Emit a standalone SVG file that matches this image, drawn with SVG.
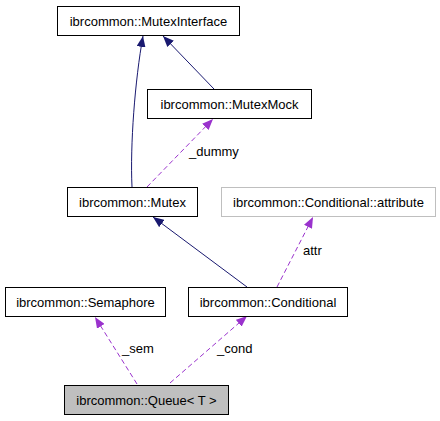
<svg xmlns="http://www.w3.org/2000/svg" width="440" height="421" viewBox="0 0 440 421">
<style>
text{font-family:"Liberation Sans",Arial,sans-serif;font-size:13px;fill:#000}
.n text{text-anchor:middle}
.box{fill:#fff;stroke:#000;stroke-width:1}
.grey{fill:#fff;stroke:#bfbfbf;stroke-width:1}
.cur{fill:#bfbfbf;stroke:#000;stroke-width:1}
.inh{fill:none;stroke:#191970;stroke-width:1}
.use{fill:none;stroke:#9a32cd;stroke-width:1;stroke-dasharray:5,3}
</style>
<defs>
<marker id="ab" viewBox="0 0 11 9" refX="11" refY="4.5" markerWidth="11" markerHeight="9" markerUnits="userSpaceOnUse" orient="auto">
<path d="M0,0 L11,4.5 L0,9 Z" fill="#191970"/>
</marker>
<marker id="ap" viewBox="0 0 11 9" refX="11" refY="4.5" markerWidth="11" markerHeight="9" markerUnits="userSpaceOnUse" orient="auto">
<path d="M0,0 L11,4.5 L0,9 Z" fill="#9a32cd"/>
</marker>
</defs>
<g id="edges">
<path class="inh" d="M132,187 C130,145 135,80 143,36" marker-end="url(#ab)"/>
<path class="inh" d="M214,89 L163,36" marker-end="url(#ab)"/>
<path class="use" d="M147,187 L213,119" marker-end="url(#ap)"/>
<text x="189" y="156">_dummy</text>
<path class="inh" d="M247,287 L153,217" marker-end="url(#ab)"/>
<path class="use" d="M277,287 L313,217" marker-end="url(#ap)"/>
<text x="303" y="255">attr</text>
<path class="use" d="M137,384 L95,317" marker-end="url(#ap)"/>
<text x="122" y="353">_sem</text>
<path class="use" d="M170,383 L247,316" marker-end="url(#ap)"/>
<text x="217" y="353">_cond</text>
</g>
<g id="MutexInterface" class="n"><rect class="box" x="57.5" y="6.5" width="182" height="29"/><text x="148.5" y="25.5">ibrcommon::MutexInterface</text></g>
<g id="MutexMock" class="n"><rect class="box" x="147.5" y="89.5" width="164" height="29"/><text x="229.5" y="108.5">ibrcommon::MutexMock</text></g>
<g id="Mutex" class="n"><rect class="box" x="67.5" y="187.5" width="130" height="29"/><text x="132.5" y="206.5">ibrcommon::Mutex</text></g>
<g id="ConditionalAttribute" class="n"><rect class="grey" x="221.5" y="187.5" width="214" height="29"/><text x="328.5" y="206.5">ibrcommon::Conditional::attribute</text></g>
<g id="Semaphore" class="n"><rect class="box" x="5.5" y="287.5" width="160" height="29"/><text x="85.5" y="306.5">ibrcommon::Semaphore</text></g>
<g id="Conditional" class="n"><rect class="box" x="188.5" y="287.5" width="159" height="29"/><text x="268" y="306.5">ibrcommon::Conditional</text></g>
<g id="Queue" class="n"><rect class="cur" x="64.5" y="385.5" width="164" height="29"/><text x="146.5" y="404.5">ibrcommon::Queue&lt; T &gt;</text></g>
</svg>
